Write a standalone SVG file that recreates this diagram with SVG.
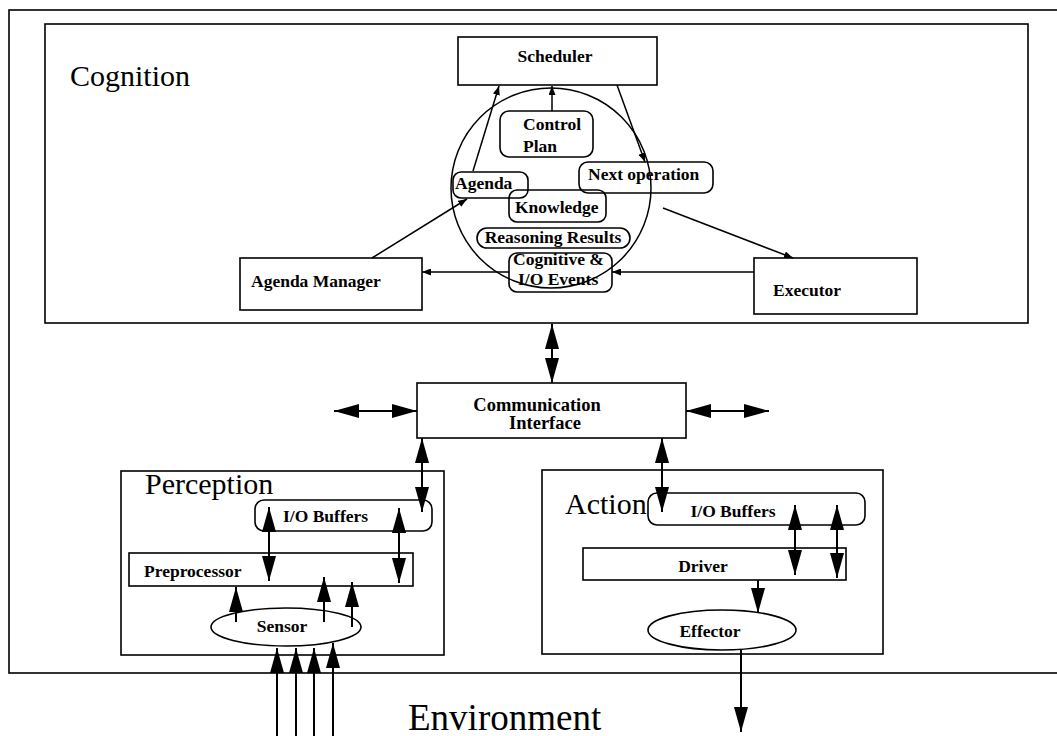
<svg xmlns="http://www.w3.org/2000/svg" width="1057" height="736" viewBox="0 0 1057 736">
<style>
.b{fill:none;stroke:#000;stroke-width:1.6}
.t{font-family:"Liberation Serif","Times New Roman",serif;font-size:17.5px;font-weight:bold;fill:#000}
.h{font-family:"Liberation Serif","Times New Roman",serif;font-size:30px;fill:#000}
.c{fill:none;stroke:#000;stroke-width:1.5}
.k{fill:none;stroke:#000;stroke-width:2}
</style>
<defs>
<marker id="sm" markerUnits="userSpaceOnUse" viewBox="0 0 9 7" markerWidth="9" markerHeight="7" refX="9" refY="3.5" orient="auto-start-reverse"><path d="M0,0 L9,3.5 L0,7 z" fill="#000"/></marker>
<marker id="big" markerUnits="userSpaceOnUse" viewBox="0 0 25 14" markerWidth="25" markerHeight="14" refX="25" refY="7" orient="auto-start-reverse"><path d="M0,0 L25,7 L0,14 z" fill="#000"/></marker>
</defs>
<rect width="1057" height="736" fill="#fff"/>
<g id="frame"><rect class="b" x="9" y="10" width="1060" height="663"/></g>
<g id="cognition"><rect class="b" x="45" y="24" width="983" height="299"/><text class="h" x="70" y="86">Cognition</text></g>
<g id="scheduler"><rect class="b" x="458" y="37" width="199" height="48"/><text class="t" x="555" y="62" text-anchor="middle">Scheduler</text></g>
<g id="memory"><circle class="c" cx="551" cy="188" r="100"/></g>
<g id="control-plan"><rect class="b" x="500" y="111" width="93" height="46" rx="9"/><text class="t" x="523" y="130">Control</text><text class="t" x="523" y="152">Plan</text></g>
<g id="agenda"><rect class="b" x="453" y="172" width="75" height="26" rx="8"/><text class="t" x="455" y="189">Agenda</text></g>
<g id="knowledge"><rect class="b" x="509" y="190" width="97" height="32" rx="8"/><text class="t" x="515" y="213">Knowledge</text></g>
<g id="next-operation"><rect class="b" x="579" y="162" width="134" height="31" rx="9"/><text class="t" x="588" y="180">Next operation</text></g>
<g id="reasoning-results"><rect class="b" x="477" y="228" width="153" height="20" rx="10"/><text class="t" x="553" y="243" text-anchor="middle">Reasoning Results</text></g>
<g id="events"><rect class="b" x="509" y="253" width="103" height="39" rx="8"/><text class="t" x="513" y="265">Cognitive &amp;</text><text class="t" x="518" y="285">I/O Events</text></g>
<g id="agenda-manager"><rect class="b" x="240" y="258" width="182" height="52"/><text class="t" x="251" y="287">Agenda Manager</text></g>
<g id="executor"><rect class="b" x="754" y="258" width="163" height="56"/><text class="t" x="773" y="296">Executor</text></g>
<g id="communication"><rect class="b" x="417" y="383" width="269" height="55"/><text class="t" x="537" y="411" text-anchor="middle" style="font-size:18.5px">Communication</text><text class="t" x="545" y="429" text-anchor="middle" style="font-size:18.5px">Interface</text></g>
<g id="perception"><rect class="b" x="121" y="471" width="323" height="184"/><text class="h" x="145" y="494">Perception</text></g>
<g id="perception-buffers"><rect class="b" x="255" y="500" width="177" height="31" rx="9"/><text class="t" x="283" y="522">I/O Buffers</text></g>
<g id="preprocessor"><rect class="b" x="129" y="553" width="284" height="33"/><text class="t" x="144" y="577">Preprocessor</text></g>
<g id="sensor"><ellipse class="b" cx="286" cy="627" rx="75" ry="19"/><text class="t" x="282" y="632" text-anchor="middle">Sensor</text></g>
<g id="action"><rect class="b" x="542" y="470" width="341" height="184"/><text class="h" x="565" y="514">Action</text></g>
<g id="action-buffers"><rect class="b" x="648" y="493" width="217" height="32" rx="9"/><text class="t" x="733" y="517" text-anchor="middle">I/O Buffers</text></g>
<g id="driver"><rect class="b" x="583" y="548" width="263" height="32"/><text class="t" x="703" y="572" text-anchor="middle">Driver</text></g>
<g id="effector"><ellipse class="b" cx="722" cy="630" rx="74" ry="20"/><text class="t" x="710" y="637" text-anchor="middle">Effector</text></g>
<g id="environment"><text class="h" x="408" y="730" style="font-size:37px">Environment</text></g>
<g id="connectors">
<line class="c" x1="473" y1="171" x2="499" y2="86" marker-end="url(#sm)"/>
<line class="c" x1="552" y1="111" x2="552" y2="86" marker-end="url(#sm)"/>
<line class="c" x1="617" y1="85" x2="645" y2="162" marker-end="url(#sm)"/>
<line class="c" x1="372" y1="258" x2="467" y2="199" marker-end="url(#sm)"/>
<line class="c" x1="663" y1="208" x2="793" y2="258" marker-end="url(#sm)"/>
<line class="c" x1="754" y1="272" x2="612" y2="272" marker-end="url(#sm)"/>
<line class="c" x1="509" y1="272" x2="422" y2="272" marker-end="url(#sm)"/>
<line class="k" x1="552" y1="324" x2="552" y2="383" marker-start="url(#big)" marker-end="url(#big)"/>
<line class="k" x1="334" y1="411" x2="417" y2="411" marker-start="url(#big)" marker-end="url(#big)"/>
<line class="k" x1="686" y1="411" x2="769" y2="411" marker-start="url(#big)" marker-end="url(#big)"/>
<line class="k" x1="422" y1="438" x2="422" y2="512" marker-start="url(#big)" marker-end="url(#big)"/>
<line class="k" x1="662" y1="438" x2="662" y2="512" marker-start="url(#big)" marker-end="url(#big)"/>
<line class="k" x1="269" y1="507" x2="269" y2="581" marker-start="url(#big)" marker-end="url(#big)"/>
<line class="k" x1="399" y1="508" x2="399" y2="583" marker-start="url(#big)" marker-end="url(#big)"/>
<line class="k" x1="236" y1="622" x2="236" y2="587" marker-end="url(#big)"/>
<line class="k" x1="324" y1="622" x2="324" y2="577" marker-end="url(#big)"/>
<line class="k" x1="352" y1="627" x2="352" y2="582" marker-end="url(#big)"/>
<line class="k" x1="277" y1="736" x2="277" y2="648" marker-end="url(#big)"/>
<line class="k" x1="296" y1="736" x2="296" y2="648" marker-end="url(#big)"/>
<line class="k" x1="314" y1="736" x2="314" y2="648" marker-end="url(#big)"/>
<line class="k" x1="333" y1="736" x2="333" y2="643" marker-end="url(#big)"/>
<line class="k" x1="795" y1="505" x2="795" y2="575" marker-start="url(#big)" marker-end="url(#big)"/>
<line class="k" x1="837" y1="505" x2="837" y2="578" marker-start="url(#big)" marker-end="url(#big)"/>
<line class="k" x1="758" y1="580" x2="758" y2="613" marker-end="url(#big)"/>
<line class="k" x1="741" y1="650" x2="741" y2="732" marker-end="url(#big)"/>
</g>
</svg>
